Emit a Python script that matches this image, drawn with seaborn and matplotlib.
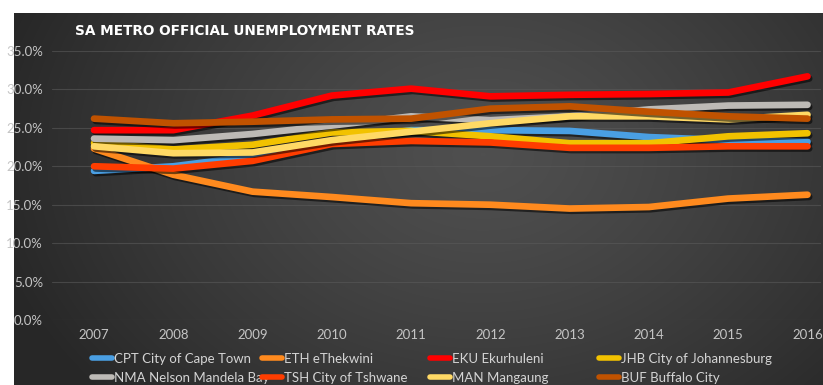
import numpy as np
import pandas as pd
import matplotlib
matplotlib.use("Agg")
import matplotlib.pyplot as plt
import matplotlib.patheffects as pe
from matplotlib.lines import Line2D
from matplotlib.ticker import PercentFormatter
import seaborn as sns

# ---- data -------------------------------------------------------------
years = [2007, 2008, 2009, 2010, 2011, 2012, 2013, 2014, 2015, 2016]

cpt = [19.4, 20.0, 21.3, 23.3, 24.7, 24.7, 24.6, 23.8, 23.4, 23.2]
eth = [22.3, 18.9, 16.7, 16.0, 15.2, 15.0, 14.5, 14.7, 15.8, 16.3]
eku = [24.7, 24.7, 26.6, 29.2, 30.1, 29.1, 29.3, 29.4, 29.6, 31.7]
jhb = [23.0, 22.2, 22.8, 24.4, 24.6, 23.9, 23.0, 23.0, 23.9, 24.3]
nma = [23.6, 23.4, 24.2, 25.3, 26.5, 26.0, 26.5, 27.4, 27.9, 28.0]
tsh = [20.0, 19.7, 20.7, 22.9, 23.3, 23.1, 22.4, 22.4, 22.6, 22.6]
man = [22.6, 21.7, 21.8, 23.4, 24.5, 25.6, 26.5, 26.5, 26.1, 26.7]
buf = [26.2, 25.6, 25.8, 26.1, 26.2, 27.5, 27.8, 27.1, 26.5, 26.2]

series_names = [
    "CPT City of Cape Town",
    "ETH eThekwini",
    "EKU Ekurhuleni",
    "JHB City of Johannesburg",
    "NMA Nelson Mandela Bay",
    "TSH City of Tshwane",
    "MAN Mangaung",
    "BUF Buffalo City",
]
series_values = [cpt, eth, eku, jhb, nma, tsh, man, buf]
series_colors = ["#4a9fe3", "#ff8a1e", "#ff0000", "#f2c200",
                 "#bdbab6", "#ff3d00", "#ffd965", "#c05200"]

y_ticks = [0, 5, 10, 15, 20, 25, 30, 35]
title = "SA METRO OFFICIAL UNEMPLOYMENT RATES"

# ---- long-form table ----------------------------------------------------
df = pd.DataFrame(
    [(y, name, v) for name, vals in zip(series_names, series_values)
     for y, v in zip(years, vals)],
    columns=["year", "metro", "rate"],
)
palette = dict(zip(series_names, series_colors))

# ---- figure -------------------------------------------------------------
sns.set_theme(style="white")
plt.rcParams["font.family"] = ["Lato", "DejaVu Sans"]

W, H = 823, 385
fig = plt.figure(figsize=(W / 100, H / 100), dpi=100, facecolor="white")

# dark panel with a soft radial glow
bg = fig.add_axes([14 / W, 0, (W - 14) / W, (H - 13) / H], zorder=0)
gx, gy = np.meshgrid(np.linspace(0, 1, 400), np.linspace(0, 1, 200))
d = np.sqrt(((gx - 0.58) / 0.62) ** 2 + ((gy - 0.62) / 1.0) ** 2)
d = np.clip(d, 0, 1) ** 1.3
light, dark = 0.31, 0.155
shade = light - (light - dark) * d
bg.imshow(np.dstack([shade, shade, shade]), aspect="auto",
          extent=[0, 1, 0, 1], origin="lower", interpolation="bicubic")
bg.set_axis_off()

ax = fig.add_axes([52 / W, (H - 320) / H, (821 - 52) / W, 269 / H], zorder=1)
ax.set_facecolor("none")

sns.lineplot(data=df, x="year", y="rate", hue="metro", hue_order=series_names,
             palette=palette, linewidth=4.8, sort=False, legend=False, ax=ax)

shadow = [pe.SimpleLineShadow(offset=(1.2, -1.6), shadow_color="black", alpha=0.55),
          pe.Normal()]
for line in ax.get_lines():
    line.set_solid_capstyle("round")
    line.set_solid_joinstyle("round")
    line.set_path_effects(shadow)

ax.set_xlim(2006.47, 2016.17)
ax.set_ylim(0, 35)
ax.set_xticks(years)
ax.set_yticks(y_ticks)
ax.yaxis.set_major_formatter(PercentFormatter(decimals=1))
ax.grid(axis="y", color="#5a5a5a", linewidth=0.8, alpha=0.6)
ax.grid(axis="x", visible=False)
for s in ax.spines.values():
    s.set_visible(False)
ax.tick_params(axis="both", length=0, labelsize=9.5, colors="#c4c4c4")
ax.tick_params(axis="y", pad=6.5)
ax.tick_params(axis="x", pad=6.5)
ax.set_xlabel("")
ax.set_ylabel("")

fig.text(75 / W, 1 - 31 / H, title, color="white", fontsize=9.8,
         fontweight="bold", va="center", ha="left",
         family=["DejaVu Sans"])

# legend laid out in four evenly spaced columns, two rows each
col_x = [95, 265, 433, 602]
for c in range(4):
    idx = [c, c + 4]
    handles = [Line2D([], [], color=series_colors[i], linewidth=4,
                      solid_capstyle="round") for i in idx]
    labels = [series_names[i] for i in idx]
    leg = fig.legend(handles, labels, loc="upper left",
                     bbox_to_anchor=((col_x[c] - 7) / W, 1 - 349 / H),
                     frameon=False, fontsize=9.5, handlelength=1.55,
                     handletextpad=0.15, labelspacing=0.5,
                     borderaxespad=0, borderpad=0.3)
    for t in leg.get_texts():
        t.set_color("#d4d4d4")
    leg.set_zorder(3)

fig.savefig("out.png", dpi=100, facecolor="white")
